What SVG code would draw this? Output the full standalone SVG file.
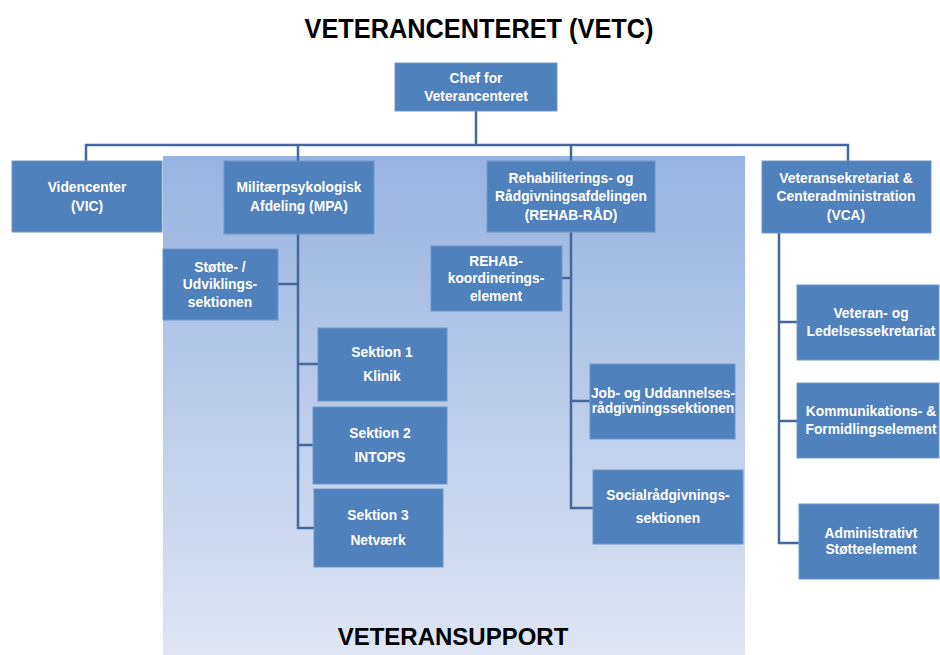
<svg xmlns="http://www.w3.org/2000/svg" width="940" height="655" viewBox="0 0 940 655">
<defs>
<linearGradient id="panelGrad" x1="0" y1="0" x2="0" y2="1">
<stop offset="0" stop-color="#97b3e1"/>
<stop offset="1" stop-color="#dfe5f3"/>
</linearGradient>
</defs>
<style>
.box{fill:#4f81bd;stroke:#6f96ca;stroke-width:1}
.lbl{font-family:"Liberation Sans",Arial,sans-serif;font-weight:bold;font-size:13.8px;fill:#ffffff;text-anchor:middle}
.conn{fill:none;stroke:#41699e;stroke-width:2.5}
.title{font-family:"Liberation Sans",Arial,sans-serif;font-weight:bold;fill:#000000;text-anchor:middle}
</style>
<rect x="0" y="0" width="940" height="655" fill="#ffffff"/>
<rect id="panel" x="163" y="156" width="582" height="499" fill="url(#panelGrad)"/>
<text class="title" x="479" y="38" font-size="27" textLength="349" lengthAdjust="spacingAndGlyphs">VETERANCENTERET (VETC)</text>
<text class="title" x="453" y="645" font-size="24">VETERANSUPPORT</text>
<g id="connectors">
<path class="conn" d="M476 111 V145 M86 161 V145 H848 V161 M298 145 V161 M571 145 V161"/>
<path class="conn" d="M298 234 V528 H314 M278 284 H298 M298 364 H318 M298 445 H313"/>
<path class="conn" d="M571 232 V508 H593 M562 278 H571 M571 401 H590"/>
<path class="conn" d="M779 233 V543 H799 M779 322 H797 M779 421 H797"/>
</g>
<g id="chef"><rect class="box" x="395" y="63" width="162" height="48"/><text class="lbl" x="476" y="83">Chef for</text><text class="lbl" x="476" y="101">Veterancenteret</text></g>
<g id="vic"><rect class="box" x="12" y="161" width="150" height="71"/><text class="lbl" x="87" y="192">Videncenter</text><text class="lbl" x="87" y="211">(VIC)</text></g>
<g id="mpa"><rect class="box" x="224" y="161" width="150" height="73"/><text class="lbl" x="299" y="192">Militærpsykologisk</text><text class="lbl" x="299" y="211">Afdeling (MPA)</text></g>
<g id="rehabraad"><rect class="box" x="487" y="161" width="168" height="71"/><text class="lbl" x="571" y="183">Rehabiliterings- og</text><text class="lbl" x="571" y="201">Rådgivningsafdelingen</text><text class="lbl" x="571" y="220">(REHAB-RÅD)</text></g>
<g id="vca"><rect class="box" x="762" y="161" width="169" height="72"/><text class="lbl" x="846" y="183">Veteransekretariat &amp;</text><text class="lbl" x="846" y="201">Centeradministration</text><text class="lbl" x="846" y="220">(VCA)</text></g>
<g id="stotte"><rect class="box" x="163" y="249" width="115" height="71"/><text class="lbl" x="220" y="272">Støtte- /</text><text class="lbl" x="220" y="289">Udviklings-</text><text class="lbl" x="220" y="307">sektionen</text></g>
<g id="rehabkoord"><rect class="box" x="431" y="246" width="131" height="65"/><text class="lbl" x="496" y="266">REHAB-</text><text class="lbl" x="496" y="283">koordinerings-</text><text class="lbl" x="496" y="301">element</text></g>
<g id="sektion1"><rect class="box" x="318" y="328" width="129" height="73"/><text class="lbl" x="382" y="357">Sektion 1</text><text class="lbl" x="382" y="381">Klinik</text></g>
<g id="sektion2"><rect class="box" x="313" y="407" width="134" height="77"/><text class="lbl" x="380" y="438">Sektion 2</text><text class="lbl" x="380" y="462">INTOPS</text></g>
<g id="sektion3"><rect class="box" x="314" y="489" width="129" height="78"/><text class="lbl" x="378" y="520">Sektion 3</text><text class="lbl" x="378" y="545">Netværk</text></g>
<g id="job"><rect class="box" x="590" y="364" width="145" height="75"/><text class="lbl" x="663" y="398">Job- og Uddannelses-</text><text class="lbl" x="663" y="413">rådgivningssektionen</text></g>
<g id="social"><rect class="box" x="593" y="470" width="150" height="74"/><text class="lbl" x="668" y="500">Socialrådgivnings-</text><text class="lbl" x="668" y="523">sektionen</text></g>
<g id="vetled"><rect class="box" x="797" y="285" width="142" height="75"/><text class="lbl" x="871" y="318">Veteran- og</text><text class="lbl" x="871" y="336">Ledelsessekretariat</text></g>
<g id="komm"><rect class="box" x="797" y="383" width="142" height="75"/><text class="lbl" x="871" y="416">Kommunikations- &amp;</text><text class="lbl" x="871" y="434">Formidlingselement</text></g>
<g id="admin"><rect class="box" x="799" y="504" width="140" height="75"/><text class="lbl" x="871" y="538">Administrativt</text><text class="lbl" x="871" y="554">Støtteelement</text></g>
</svg>
